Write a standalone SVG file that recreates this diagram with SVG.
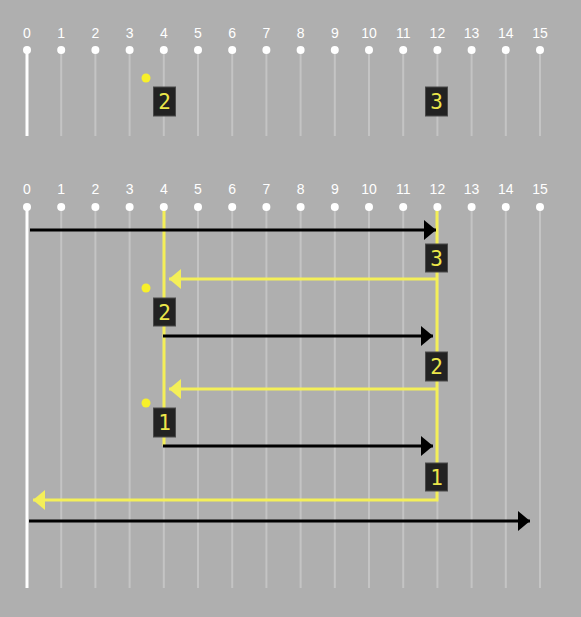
<svg xmlns="http://www.w3.org/2000/svg" width="581" height="617" viewBox="0 0 581 617">
  <defs>
    <style>
      .lbl { font-family: "Liberation Sans", Arial, sans-serif; font-size: 14px; fill: #ffffff; text-anchor: middle; }
      .grid { stroke: #c4c4c4; stroke-width: 2; }
      .zero { stroke: #ffffff; stroke-width: 3; }
      .dot { fill: #ffffff; }
      .box { fill: #222222; stroke: #4a4a4a; stroke-width: 1; }
      .dig { font-family: "DejaVu Sans Mono", "Liberation Mono", monospace; font-size: 21px; fill: #ebe64a; text-anchor: middle; }
      .ydot { fill: #f7f02a; }
      .blk { stroke: #000000; stroke-width: 3; fill: none; }
      .yel { stroke: #f4ef58; stroke-width: 3; fill: none; }
    </style>
    <marker id="ab" markerUnits="userSpaceOnUse" markerWidth="13" markerHeight="22" refX="12" refY="11" orient="auto">
      <path d="M0,1 L12,11 L0,21 z" fill="#000000"/>
    </marker>
    <marker id="ay" markerUnits="userSpaceOnUse" markerWidth="13" markerHeight="22" refX="12" refY="11" orient="auto">
      <path d="M0,1 L12,11 L0,21 z" fill="#f4ef58"/>
    </marker>
  </defs>
  <rect x="0" y="0" width="581" height="617" fill="#afafaf"/>

  <!-- Top timeline -->
  <g id="top-grid">
    <line class="grid" x1="61.2" y1="50" x2="61.2" y2="136"/>
    <line class="grid" x1="95.4" y1="50" x2="95.4" y2="136"/>
    <line class="grid" x1="129.6" y1="50" x2="129.6" y2="136"/>
    <line class="grid" x1="163.8" y1="50" x2="163.8" y2="136"/>
    <line class="grid" x1="198" y1="50" x2="198" y2="136"/>
    <line class="grid" x1="232.2" y1="50" x2="232.2" y2="136"/>
    <line class="grid" x1="266.4" y1="50" x2="266.4" y2="136"/>
    <line class="grid" x1="300.6" y1="50" x2="300.6" y2="136"/>
    <line class="grid" x1="334.8" y1="50" x2="334.8" y2="136"/>
    <line class="grid" x1="369" y1="50" x2="369" y2="136"/>
    <line class="grid" x1="403.2" y1="50" x2="403.2" y2="136"/>
    <line class="grid" x1="437.4" y1="50" x2="437.4" y2="136"/>
    <line class="grid" x1="471.6" y1="50" x2="471.6" y2="136"/>
    <line class="grid" x1="505.8" y1="50" x2="505.8" y2="136"/>
    <line class="grid" x1="540" y1="50" x2="540" y2="136"/>
    <line class="zero" x1="27" y1="50" x2="27" y2="136"/>
    <g class="dot">
      <circle cx="27" cy="50" r="4"/><circle cx="61.2" cy="50" r="4"/><circle cx="95.4" cy="50" r="4"/><circle cx="129.6" cy="50" r="4"/>
      <circle cx="163.8" cy="50" r="4"/><circle cx="198" cy="50" r="4"/><circle cx="232.2" cy="50" r="4"/><circle cx="266.4" cy="50" r="4"/>
      <circle cx="300.6" cy="50" r="4"/><circle cx="334.8" cy="50" r="4"/><circle cx="369" cy="50" r="4"/><circle cx="403.2" cy="50" r="4"/>
      <circle cx="437.4" cy="50" r="4"/><circle cx="471.6" cy="50" r="4"/><circle cx="505.8" cy="50" r="4"/><circle cx="540" cy="50" r="4"/>
    </g>
    <text class="lbl" x="27" y="37.5">0</text><text class="lbl" x="61.2" y="37.5">1</text><text class="lbl" x="95.4" y="37.5">2</text><text class="lbl" x="129.6" y="37.5">3</text>
    <text class="lbl" x="163.8" y="37.5">4</text><text class="lbl" x="198" y="37.5">5</text><text class="lbl" x="232.2" y="37.5">6</text><text class="lbl" x="266.4" y="37.5">7</text>
    <text class="lbl" x="300.6" y="37.5">8</text><text class="lbl" x="334.8" y="37.5">9</text><text class="lbl" x="369" y="37.5">10</text><text class="lbl" x="403.2" y="37.5">11</text>
    <text class="lbl" x="437.4" y="37.5">12</text><text class="lbl" x="471.6" y="37.5">13</text><text class="lbl" x="505.8" y="37.5">14</text><text class="lbl" x="540" y="37.5">15</text>
  </g>
  <circle class="ydot" id="top-dot" cx="146" cy="78" r="4.5"/>
  <g id="top-box-2"><rect class="box" x="153.5" y="87" width="22" height="29"/><text class="dig" x="164.5" y="109">2</text></g>
  <g id="top-box-3"><rect class="box" x="425.5" y="87" width="22" height="29"/><text class="dig" x="436.5" y="109">3</text></g>

  <!-- Bottom timeline -->
  <g id="bottom-grid">
    <line class="grid" x1="61.2" y1="207" x2="61.2" y2="588"/>
    <line class="grid" x1="95.4" y1="207" x2="95.4" y2="588"/>
    <line class="grid" x1="129.6" y1="207" x2="129.6" y2="588"/>
    <line class="grid" x1="163.8" y1="207" x2="163.8" y2="588"/>
    <line class="grid" x1="198" y1="207" x2="198" y2="588"/>
    <line class="grid" x1="232.2" y1="207" x2="232.2" y2="588"/>
    <line class="grid" x1="266.4" y1="207" x2="266.4" y2="588"/>
    <line class="grid" x1="300.6" y1="207" x2="300.6" y2="588"/>
    <line class="grid" x1="334.8" y1="207" x2="334.8" y2="588"/>
    <line class="grid" x1="369" y1="207" x2="369" y2="588"/>
    <line class="grid" x1="403.2" y1="207" x2="403.2" y2="588"/>
    <line class="grid" x1="437.4" y1="207" x2="437.4" y2="588"/>
    <line class="grid" x1="471.6" y1="207" x2="471.6" y2="588"/>
    <line class="grid" x1="505.8" y1="207" x2="505.8" y2="588"/>
    <line class="grid" x1="540" y1="207" x2="540" y2="588"/>
    <line class="zero" x1="27" y1="207" x2="27" y2="588"/>
    <text class="lbl" x="27" y="193.5">0</text><text class="lbl" x="61.2" y="193.5">1</text><text class="lbl" x="95.4" y="193.5">2</text><text class="lbl" x="129.6" y="193.5">3</text>
    <text class="lbl" x="163.8" y="193.5">4</text><text class="lbl" x="198" y="193.5">5</text><text class="lbl" x="232.2" y="193.5">6</text><text class="lbl" x="266.4" y="193.5">7</text>
    <text class="lbl" x="300.6" y="193.5">8</text><text class="lbl" x="334.8" y="193.5">9</text><text class="lbl" x="369" y="193.5">10</text><text class="lbl" x="403.2" y="193.5">11</text>
    <text class="lbl" x="437.4" y="193.5">12</text><text class="lbl" x="471.6" y="193.5">13</text><text class="lbl" x="505.8" y="193.5">14</text><text class="lbl" x="540" y="193.5">15</text>
  </g>

  <g id="connectors">
    <line class="yel" x1="164" y1="207" x2="164" y2="446"/>
    <path class="yel" d="M437,207 L437,500 L33,500" marker-end="url(#ay)"/>
    <line class="yel" x1="437" y1="279" x2="169" y2="279" marker-end="url(#ay)"/>
    <line class="yel" x1="437" y1="389" x2="169" y2="389" marker-end="url(#ay)"/>
    <line class="blk" x1="30" y1="230" x2="436" y2="230" marker-end="url(#ab)"/>
    <line class="blk" x1="163" y1="336" x2="433" y2="336" marker-end="url(#ab)"/>
    <line class="blk" x1="163" y1="446" x2="433" y2="446" marker-end="url(#ab)"/>
    <line class="blk" x1="29" y1="521" x2="530" y2="521" marker-end="url(#ab)"/>
  </g>

  <g id="bottom-dots" class="dot">
    <circle cx="27" cy="207" r="4"/><circle cx="61.2" cy="207" r="4"/><circle cx="95.4" cy="207" r="4"/><circle cx="129.6" cy="207" r="4"/>
    <circle cx="163.8" cy="207" r="4"/><circle cx="198" cy="207" r="4"/><circle cx="232.2" cy="207" r="4"/><circle cx="266.4" cy="207" r="4"/>
    <circle cx="300.6" cy="207" r="4"/><circle cx="334.8" cy="207" r="4"/><circle cx="369" cy="207" r="4"/><circle cx="403.2" cy="207" r="4"/>
    <circle cx="437.4" cy="207" r="4"/><circle cx="471.6" cy="207" r="4"/><circle cx="505.8" cy="207" r="4"/><circle cx="540" cy="207" r="4"/>
  </g>

  <circle class="ydot" id="dot-a" cx="146" cy="288" r="4.5"/>
  <circle class="ydot" id="dot-b" cx="146" cy="403" r="4.5"/>

  <g id="box-3"><rect class="box" x="425.5" y="244" width="22" height="28"/><text class="dig" x="436.5" y="265.5">3</text></g>
  <g id="box-2a"><rect class="box" x="153.5" y="298" width="22" height="28"/><text class="dig" x="164.5" y="319.5">2</text></g>
  <g id="box-2b"><rect class="box" x="425.5" y="352" width="22" height="29"/><text class="dig" x="436.5" y="374">2</text></g>
  <g id="box-1a"><rect class="box" x="153.5" y="408" width="22" height="29"/><text class="dig" x="164.5" y="430">1</text></g>
  <g id="box-1b"><rect class="box" x="425.5" y="463" width="22" height="28"/><text class="dig" x="436.5" y="484.5">1</text></g>
</svg>
